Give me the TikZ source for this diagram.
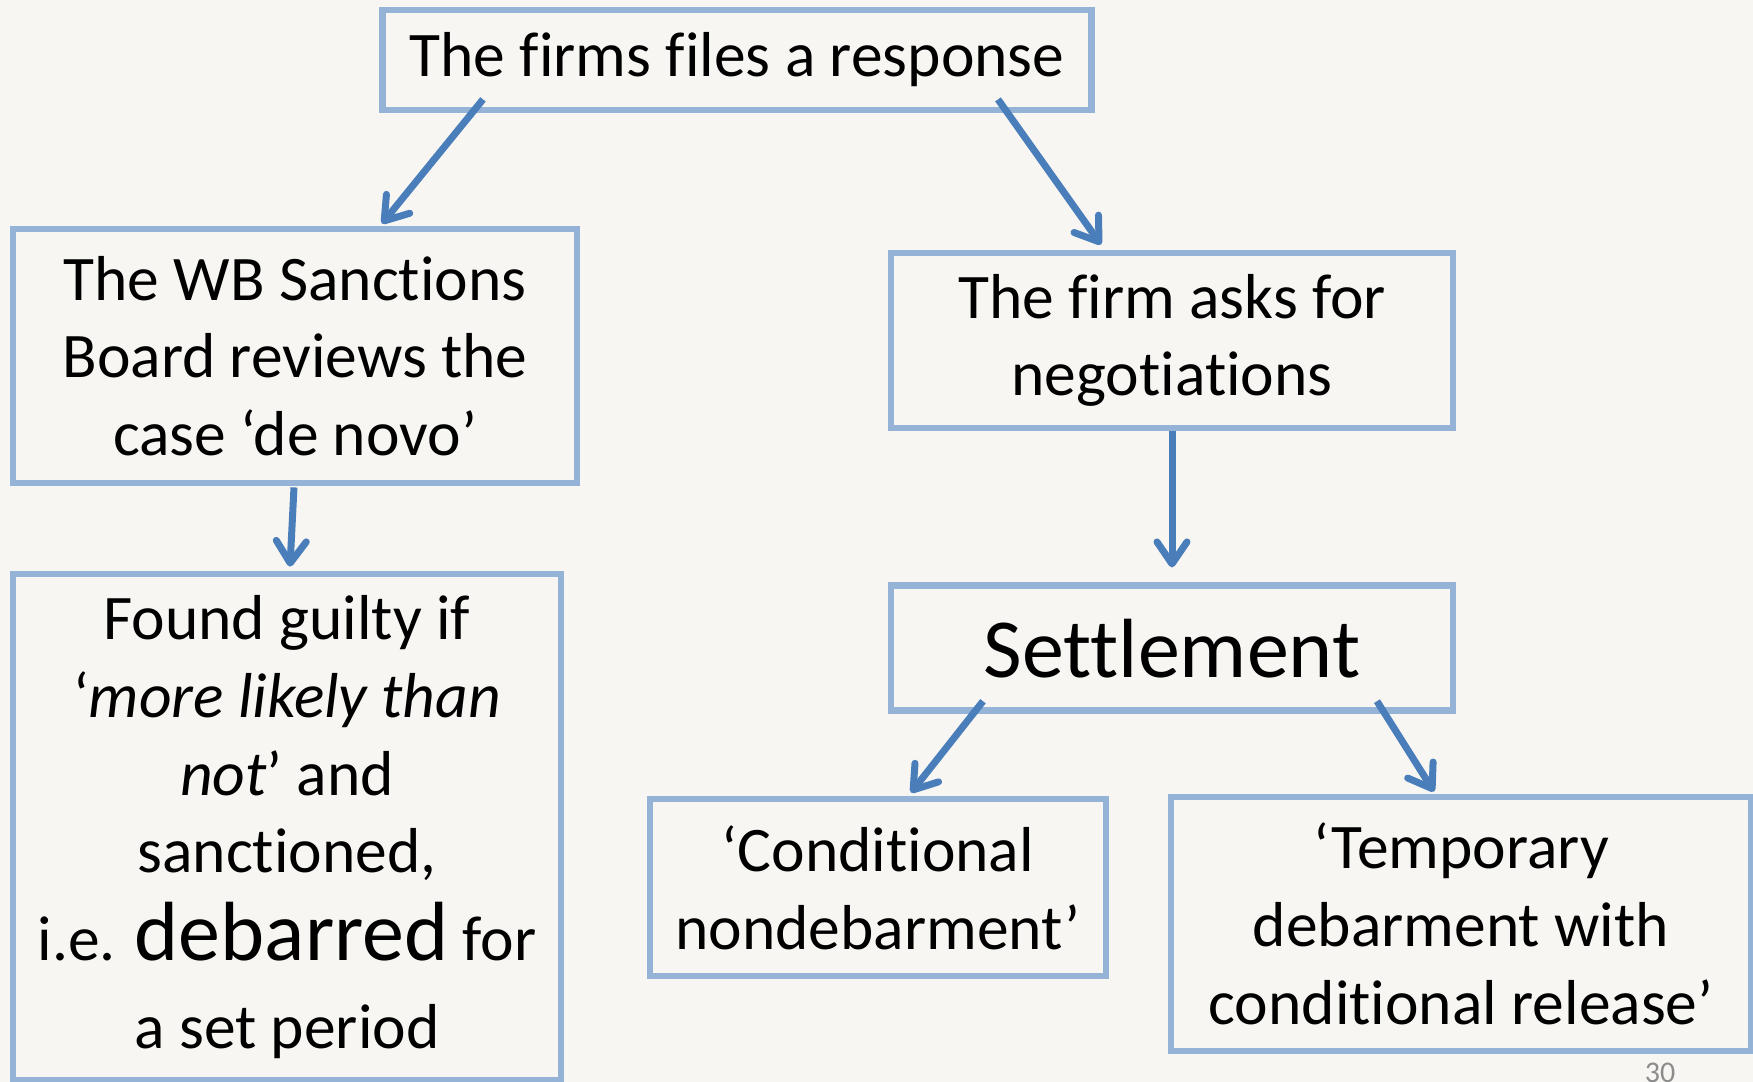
\documentclass[tikz,border=0pt]{standalone}
\usepackage{fontspec}
\setmainfont{Carlito}[RawFeature={-liga;-clig;-calt;-dlig}]
\usetikzlibrary{arrows.meta,positioning}
\definecolor{boxline}{HTML}{95B3D7}
\definecolor{arrowline}{HTML}{4A7EBB}
\definecolor{slidebg}{HTML}{F8F6F2}
\definecolor{pagegray}{HTML}{8C8C8C}

\begin{document}
\begin{tikzpicture}[x=0.5pt, y=-0.5pt,
  box/.style={draw=boxline, line width=3.4pt, rectangle, align=center, inner sep=0pt,
    font=\fontsize{31.75}{38.85}\selectfont},
  bigword/.style={font=\fontsize{42}{50}\selectfont},
  arr/.style={draw=arrowline, line width=3.5pt,
    -{Straight Barb[length=11pt,width=15pt,round]}}]

\fill[slidebg] (0,0) rectangle (1753,1082);
\useasboundingbox (0,0) rectangle (1753,1082);

\node[box, minimum width=354.5pt, minimum height=50pt] (resp) at (737,60) {The firms files a response} ;
\node[box, minimum width=282pt, minimum height=127pt] (board) at (295,356) {The WB Sanctions\\ Board reviews the\\ case ‘de novo’} ;
\node[box, minimum width=274pt, minimum height=253pt] (guilty) at (287,827)
  {Found guilty if\\ ‘\textit{more likely than}\\ \textit{not}’ and\\ sanctioned,\\[5pt]
   i.e. {\fontsize{42}{50}\selectfont debarred} for\\[5pt] a set period} ;
\node[box, minimum width=281pt, minimum height=87.5pt] (nego) at (1172,340.5) {The firm asks for\\ negotiations} ;
\node[box, bigword, minimum width=281pt, minimum height=62.5pt, below=75.5pt of nego] (settle) {Settlement} ;
\node[box, minimum width=228pt, minimum height=88.5pt] (condnd) at (878,887.5) {‘Conditional\\ nondebarment’} ;
\node[box, minimum width=290pt, minimum height=127pt] (tempdb) at (1461,924) {‘Temporary\\ debarment with\\ conditional release’} ;
\node[text=pagegray, font=\fontsize{15}{18}\selectfont] (pagenum) at (1660,1073) {30} ;

\draw[arr] ([shift={(-254,-14)}]resp.south) -- ([shift={(87,-2)}]board.north) ;
\draw[arr] ([shift={(261,-14)}]resp.south) -- ([shift={(-71,-5)}]nego.north) ;
\draw[arr] ([shift={(-1,1)}]board.south) -- ([shift={(3,-4)}]guilty.north) ;
\draw[arr] (nego.south) -- ([shift={(0,-15)}]settle.north) ;
\draw[arr] ([shift={(-189,-13)}]settle.south) -- ([shift={(33,-3)}]condnd.north) ;
\draw[arr] ([shift={(205,-13)}]settle.south) -- ([shift={(-27,-2)}]tempdb.north) ;

\end{tikzpicture}
\end{document}
